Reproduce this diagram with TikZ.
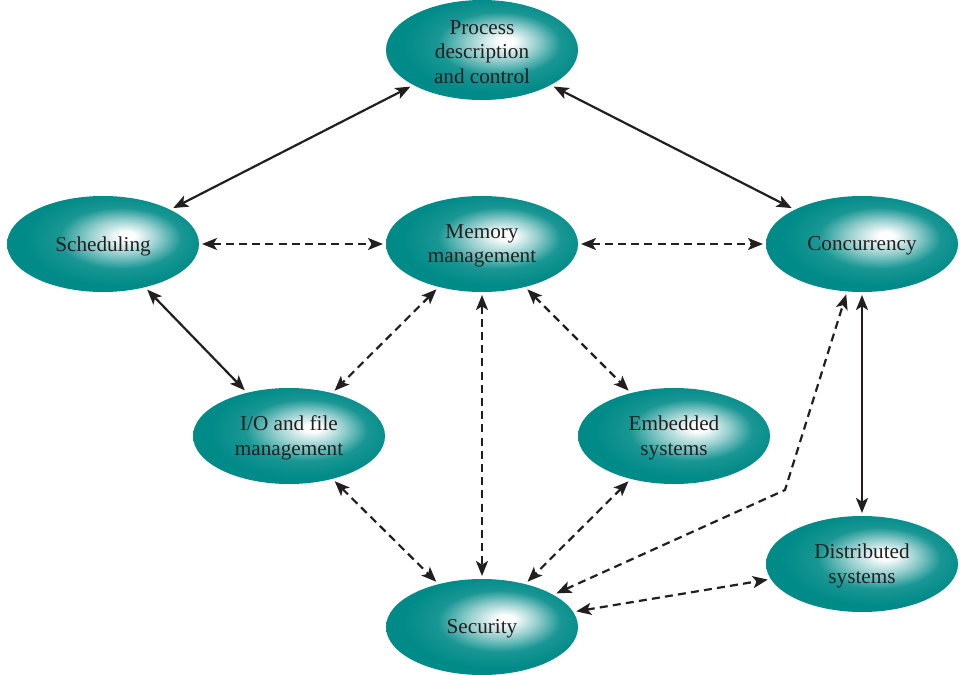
\documentclass[tikz,border=0pt]{standalone}
\usepackage{fontspec}
\setmainfont{Liberation Serif}
\usetikzlibrary{shapes.geometric,arrows.meta}
\definecolor{myteal}{RGB}{0,139,136}
\definecolor{ink}{RGB}{35,31,32}
\pgfdeclareradialshading{tealball}{\pgfpoint{6.5bp}{4.5bp}}{color(0bp)=(white); color(2bp)=(white); color(9bp)=(myteal!42!white); color(16bp)=(myteal!90!white); color(24bp)=(myteal); color(50bp)=(myteal)}
\tikzset{
  topic/.style={ellipse, shading=tealball, minimum width=96pt, minimum height=48pt, inner sep=0pt, outer sep=1.5pt},
  lbl/.style={align=center, text=ink, yshift=-1pt, inner sep=0pt, font=\fontsize{10.6}{12.3}\selectfont},
  link/.style={draw=ink, line width=1.1pt, {Stealth[length=7.5pt,width=6pt,inset=1.8pt]}-{Stealth[length=7.5pt,width=6pt,inset=1.8pt]}},
  dlink/.style={link, dash pattern=on 4pt off 2.6pt}
}
\begin{document}
\begin{tikzpicture}[x=0.5pt,y=-0.5pt]
\useasboundingbox (0,0) rectangle (960,675);
\node[topic, minimum height=50pt, label={[lbl]center:Process\\description\\and control}] (proc) at (482,50) {};
\node[topic, label={[lbl]center:Scheduling}] (sched) at (103,244) {};
\node[topic, label={[lbl]center:Memory\\management}] (mem) at (482,244) {};
\node[topic, label={[lbl]center:Concurrency}] (conc) at (862,244) {};
\node[topic, label={[lbl]center:I/O and file\\management}] (io) at (289,436) {};
\node[topic, label={[lbl]center:Embedded\\systems}] (emb) at (674,436) {};
\node[topic, label={[lbl]center:Distributed\\systems}] (dist) at (862,564) {};
\node[topic, label={[lbl]center:Security}] (sec) at (482,627) {};
\coordinate (bend) at (785,490);
\draw[link] (sched) -- (proc);
\draw[link] (proc) -- (conc);
\draw[link] (sched) -- (io);
\draw[link] (conc) -- (dist);
\draw[dlink] (sched) -- (mem);
\draw[dlink] (mem) -- (conc);
\draw[dlink] (mem) -- (io);
\draw[dlink] (mem) -- (emb);
\draw[dlink] (mem) -- (sec);
\draw[dlink] (io) -- (sec);
\draw[dlink] (emb) -- (sec);
\draw[dlink] (sec) -- (dist);
\draw[dlink] (sec) -- (bend) -- (conc);
\end{tikzpicture}
\end{document}
